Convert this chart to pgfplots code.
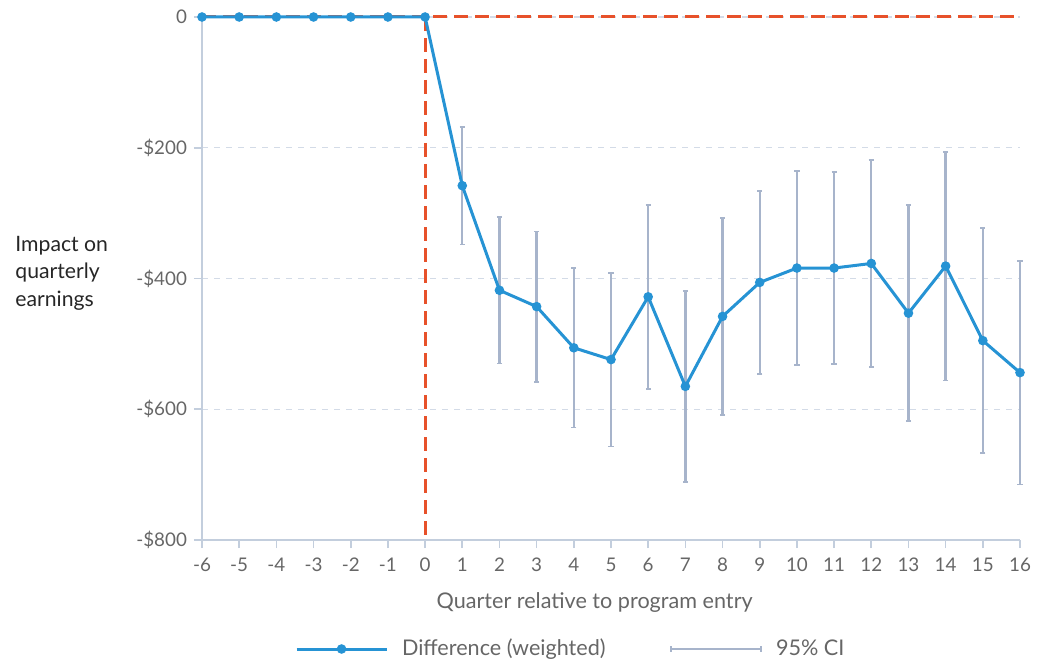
\documentclass[border=0pt]{standalone}
\usepackage{fontspec}
\setmainfont{Lato}
\usepackage{pgfplots}
\usepackage{pgfplotstable}
\pgfplotsset{compat=1.18}
\definecolor{lineblue}{HTML}{2693D4}
\definecolor{cigray}{HTML}{A7B4CB}
\definecolor{redline}{HTML}{E7512A}
\definecolor{gridc}{HTML}{D3DBE7}
\definecolor{axisc}{HTML}{C3CEDD}
\definecolor{textc}{HTML}{666666}

\pgfplotsset{
  diffleg/.style={legend image code/.code={\draw[mark repeat=2, mark phase=2, ##1] plot coordinates {(0pt,0pt) (22.5pt,0pt) (45pt,0pt)};}},
  cileg/.style={legend image code/.code={%
    \draw[draw=cigray, line width=1.2pt] (0pt,0pt) -- (45pt,0pt);
    \draw[draw=cigray, line width=0.9pt] (0pt,-1.3pt) -- (0pt,1.3pt) (45pt,-1.3pt) -- (45pt,1.3pt);}},
}

\pgfplotstableread{
x y
-6 0
-5 0
-4 0
-3 0
-2 0
-1 0
0 0
1 -258
2 -418
3 -443
4 -506
5 -524
6 -428
7 -565
8 -458
9 -406
10 -384
11 -384
12 -377
13 -453
14 -381
15 -495
16 -544
}\difftable

\pgfplotstableread{
x y e
1 -258 90
2 -418 112
3 -443 115
4 -506 122
5 -524 133
6 -428 141
7 -565 146
8 -458 151
9 -406 140
10 -384 148
11 -384 147
12 -377 158
13 -453 165
14 -381 175
15 -495 172
16 -544 171
}\citable

\begin{document}
\begin{tikzpicture}[font=\fontsize{10.8}{13}\selectfont]
\useasboundingbox (-101pt,-62pt) rectangle (420pt,270pt);
\begin{axis}[
  at={(0,0)}, anchor=south west,
  scale only axis, width=409pt, height=261.5pt,
  xmin=-6, xmax=16, ymin=-800, ymax=0,
  clip=false,
  axis x line=bottom, axis y line=left,
  axis line style={-, draw=axisc, line width=0.8pt},
  xtick={-6,...,16},
  ytick={-800,-600,-400,-200,0},
  yticklabels={-\$800,-\$600,-\$400,-\$200,0},
  tick align=outside, major tick length=4pt,
  tick style={draw=axisc, line width=0.8pt},
  ymajorgrids,
  grid style={draw=gridc, line width=0.6pt, dash pattern=on 3pt off 3pt},
  /pgf/number format/assume math mode=true,
  ticklabel style={text=textc, font=\fontsize{9.4}{11}\selectfont},
  xticklabel style={yshift=-1.5pt},
  xlabel={Quarter relative to program entry},
  xlabel style={at={(axis description cs:0.48,0)}, anchor=base, yshift=-34pt, text=textc},
  legend columns=2,
  legend style={at={(axis description cs:0.452,-0.2084)}, anchor=center, draw=none, fill=none,
    text=textc, font=\fontsize{10.8}{13}\selectfont,
    /tikz/every odd column/.append style={column sep=5pt},
    /tikz/every even column/.append style={column sep=30pt}},
  legend cell align=left,
]
\addplot[redline, line width=1.5pt, dash pattern=on 7pt off 3.5pt, forget plot] coordinates {(-6,0) (16,0)};
\addplot[redline, line width=1.5pt, dash pattern=on 7pt off 3.5pt, forget plot] coordinates {(0,0) (0,-800)};
\addplot[draw=none, mark=none, forget plot,
  error bars/.cd, y dir=both, y explicit,
  error bar style={draw=cigray, line width=1.2pt, solid},
  error mark options={rotate=90, draw=cigray, line width=0.9pt, mark size=1.3pt}]
  table[x=x, y=y, y error=e] {\citable};
\addplot[lineblue, line width=1.5pt, mark=*, mark size=1.6pt, mark options={fill=lineblue, draw=lineblue}, diffleg]
  table[x=x, y=y] {\difftable};
\addlegendentry{Difference (weighted)}
\addlegendimage{cileg}
\addlegendentry{95\% CI}
\end{axis}
\node[anchor=west, align=left, inner sep=0pt, text=black!85, font=\fontsize{10.6}{13.75}\selectfont] at (-93.5pt,133.5pt) {Impact on\\quarterly\\earnings};
\end{tikzpicture}
\end{document}
